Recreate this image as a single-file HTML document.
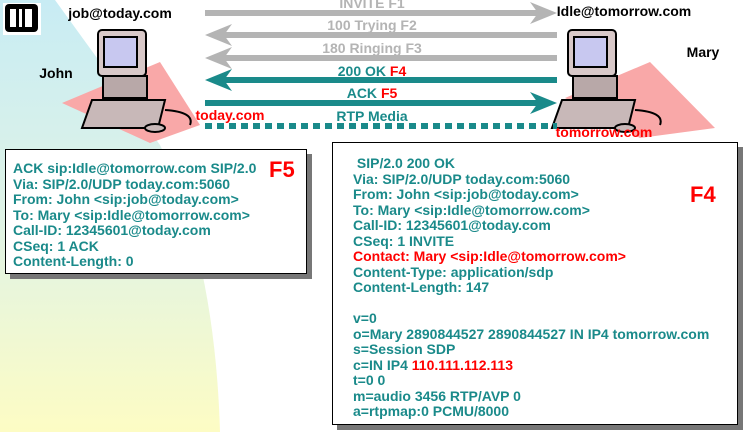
<!DOCTYPE html>
<html><head><style>
body{margin:0;width:746px;height:432px;overflow:hidden;background:#fff;font-family:"Liberation Sans",sans-serif;}
svg{position:absolute;left:0;top:0}
.box{position:absolute;background:#fff;border:1.5px solid #000;box-shadow:5px 5px 0 #777;color:#1a8a8a;font-weight:bold;font-size:14px;line-height:15.5px;white-space:pre}
.r{color:#f00}
</style></head><body>
<svg width="746" height="432" viewBox="0 0 746 432">
<defs>
<linearGradient id="bg" x1="0" y1="0" x2="0" y2="1">
<stop offset="0" stop-color="#c8ecf4"/><stop offset="0.5" stop-color="#dff3e6"/><stop offset="1" stop-color="#fdfcc4"/>
</linearGradient>
</defs>
<path d="M0,0 L55,0 L160,145 Q215,260 220,432 L0,432 Z" fill="url(#bg)"/>
<rect x="3" y="3" width="38" height="32" fill="#fff"/>
<rect x="5" y="4" width="33" height="28" rx="4" fill="#000"/>
<rect x="10" y="9" width="6" height="18" fill="#fff"/><rect x="19" y="9" width="3" height="18" fill="#fff"/><rect x="25" y="9" width="7" height="18" fill="#fff"/>
<polygon points="62,103 160,62 200,125 150,143" fill="#f9a8a8"/>
<polygon points="565,98 650,62 715,128 640,138" fill="#f9a8a8"/>
<g id="pc" stroke="#000" stroke-width="2">
<rect x="98" y="30" width="48" height="46" rx="4" fill="#d8c8c8"/>
<rect x="104" y="37" width="33" height="30" fill="#c8c8f0"/>
<rect x="103" y="76" width="44" height="22" fill="#b8a8a8"/>
<polygon points="92,100 165,100 158,128 82,128" fill="#c8b8b8"/>
<ellipse cx="155" cy="128" rx="10" ry="4" fill="#c8b8b8"/>
<path d="M165,110 Q195,112 190,125" fill="none"/>
</g>
<use href="#pc" transform="translate(470,0)"/>
<g stroke-width="6">
<line x1="205" y1="13" x2="540" y2="13" stroke="#b4b4b4"/>
<line x1="215" y1="35" x2="557" y2="35" stroke="#b4b4b4"/>
<line x1="215" y1="58" x2="557" y2="58" stroke="#b4b4b4"/>
<line x1="215" y1="80" x2="557" y2="80" stroke="#1a8a8a"/>
<line x1="205" y1="103" x2="545" y2="103" stroke="#1a8a8a"/>
<line x1="205" y1="126" x2="557" y2="126" stroke="#1a8a8a" stroke-dasharray="7,5"/>
</g>
<polygon points="530,2 557,13 530,24 538,13" fill="#b4b4b4"/>
<polygon points="232,24 205,35 232,46 224,35" fill="#b4b4b4"/>
<polygon points="232,47 205,58 232,69 224,58" fill="#b4b4b4"/>
<polygon points="232,69 205,80 232,91 224,80" fill="#1a8a8a"/>
<polygon points="530,92 557,103 530,114 538,103" fill="#1a8a8a"/>
<g font-family="Liberation Sans,sans-serif" font-weight="bold" font-size="14" text-anchor="middle">
<text x="372" y="8" fill="#b4b4b4">INVITE F1</text>
<text x="372" y="30" fill="#b4b4b4">100 Trying F2</text>
<text x="372" y="53" fill="#b4b4b4">180 Ringing F3</text>
<text x="372" y="76" fill="#1a8a8a">200 OK <tspan fill="#f00">F4</tspan></text>
<text x="372" y="98" fill="#1a8a8a">ACK <tspan fill="#f00">F5</tspan></text>
<text x="372" y="121" fill="#1a8a8a">RTP Media</text>
<text x="120" y="18" fill="#000">job@today.com</text>
<text x="56" y="78" fill="#000">John</text>
<text x="624" y="16" fill="#000">Idle@tomorrow.com</text>
<text x="703" y="57" fill="#000">Mary</text>
<text x="230" y="120" fill="#f00">today.com</text>
<text x="604" y="137" fill="#f00">tomorrow.com</text>
</g>
</svg>
<div class="box" style="left:5px;top:149px;width:293px;height:112px;padding:11px 0 0 7px;">ACK sip:Idle@tomorrow.com SIP/2.0
Via: SIP/2.0/UDP today.com:5060
From: John &lt;sip:job@today.com&gt;
To: Mary &lt;sip:Idle@tomorrow.com&gt;
Call-ID: 12345601@today.com
CSeq: 1 ACK
Content-Length: 0<span class="r" style="position:absolute;left:263px;top:12px;font-size:22px">F5</span></div>
<div class="box" style="left:332px;top:142px;width:384px;height:268px;padding:13px 0 0 20px;"> SIP/2.0 200 OK
Via: SIP/2.0/UDP today.com:5060
From: John &lt;sip:job@today.com&gt;
To: Mary &lt;sip:Idle@tomorrow.com&gt;
Call-ID: 12345601@today.com
CSeq: 1 INVITE
<span class="r">Contact: Mary &lt;sip:Idle@tomorrow.com&gt;</span>
Content-Type: application/sdp
Content-Length: 147

v=0
o=Mary 2890844527 2890844527 IN IP4 tomorrow.com
s=Session SDP
c=IN IP4 <span class="r">110.111.112.113</span>
t=0 0
m=audio 3456 RTP/AVP 0
a=rtpmap:0 PCMU/8000<span class="r" style="position:absolute;left:357px;top:44px;font-size:22px">F4</span></div>
</body></html>
